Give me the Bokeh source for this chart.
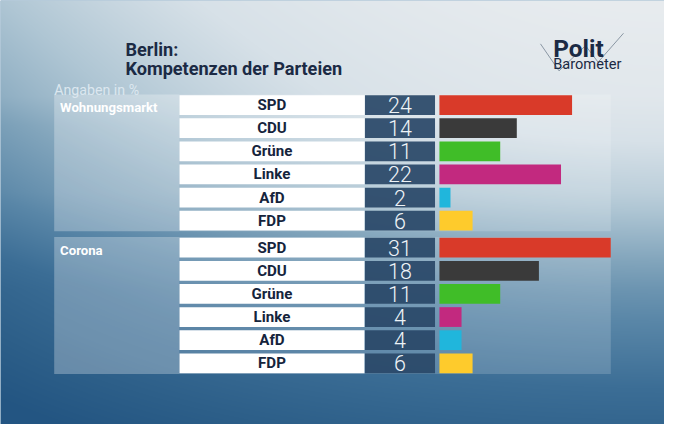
import numpy as np
from bokeh.plotting import figure
from bokeh.models import Range1d
from bokeh.core.properties import value
from bokeh.embed import file_html
from bokeh.resources import INLINE

# ---------------- data ----------------
sections = ["Wohnungsmarkt", "Corona"]
parties = ["SPD", "CDU", "Grüne", "Linke", "AfD", "FDP"]
wohnungsmarkt = [24, 14, 11, 22, 2, 6]
corona = [31, 18, 11, 4, 4, 6]
party_colors = ["#d93a29", "#3a3a3a", "#40bd28", "#c2297f", "#20b6dc", "#fecb2c"]
title_lines = ["Berlin:", "Kompetenzen der Parteien"]
unit_note = "Angaben in %"

# ---------------- layout helpers (reference-pixel based) ----------------
W, H = 664, 424                # figure size (fits 680x440 window with 8px margin)
RW, RH = 680, 440              # design space
X0, PXU = 449.5, 5.66          # value 0 position and design pixels per percent point
ROW0, ROWP = 108.5, 24.0       # first row centre and row pitch
FS = W / RW                    # font scale


def xu(px):
    return (px - X0) / PXU


def yu(py):
    return -(py - ROW0) / ROWP


def fs(px):
    return "%.1fpx" % (px * FS)


p = figure(width=W, height=H, output_backend="svg", toolbar_location=None,
           x_range=Range1d(xu(0), xu(RW)), y_range=Range1d(yu(RH), yu(0)),
           min_border=0)
p.axis.visible = False
p.grid.visible = False
p.outline_line_color = None
p.background_fill_color = "#6f98b8"
p.border_fill_color = "#6f98b8"

# ---------------- background gradient ----------------
ys_px = (np.arange(H) + 0.5) * RH / H
xs_px = (np.arange(W) + 0.5) * RW / W
stops_t = [0.0, 0.15, 0.3, 0.45, 0.6, 0.75, 0.9, 1.0]
stops_c = np.array([(232, 236, 239), (215, 225, 232), (175, 198, 212), (130, 165, 188),
                    (90, 135, 168), (60, 110, 150), (45, 95, 137), (35, 85, 130)], float)
v = np.interp(ys_px, [0, 100, 200, 300, 440], [0, 0.06, 0.25, 0.53, 0.83])
hamp = np.interp(ys_px, [0, 130, 300, 440], [0.3, 0.36, 0.3, 0.2])
hx = (1 - xs_px / RW) ** 2
t = np.clip(v[:, None] + hamp[:, None] * hx[None, :], 0, 1)
rgba = np.empty((H, W), dtype=np.uint32)
view = rgba.view(dtype=np.uint8).reshape((H, W, 4))
for c in range(3):
    view[:, :, c] = np.interp(t, stops_t, stops_c[:, c]).astype(np.uint8)
view[:, :, 3] = 255
p.image_rgba(image=[rgba[::-1]], x=xu(0), y=yu(RH), dw=xu(RW) - xu(0), dh=yu(0) - yu(RH))

# ---------------- rows ----------------
row_h = 20.5 / ROWP
sec_gap = 1.0 / 6.0
all_vals = [wohnungsmarkt, corona]
for s, (sec, vals) in enumerate(zip(sections, all_vals)):
    ys = [-(k + s * (len(parties) + sec_gap)) for k in range(len(parties))]
    top = ys[0] + row_h / 2 + 0.03
    bot = ys[-1] - row_h / 2 - 0.03
    # section panel
    p.quad(left=xu(55), right=xu(625), top=top, bottom=bot,
           fill_color="white", fill_alpha=0.17, line_color=None)
    # section label box
    p.quad(left=xu(55), right=xu(183), top=top, bottom=bot,
           fill_color="white", fill_alpha=0.14, line_color=None)
    p.text(x=[xu(61)], y=[top - 13.5 / ROWP], text=[sec], text_font=value("Roboto"),
           text_font_style="bold", text_font_size=fs(13.5), text_color="white",
           text_baseline="middle", text_align="left")
    # name boxes
    p.hbar(y=ys, left=xu(183.3), right=xu(372.7), height=row_h,
           fill_color="white", line_color=None)
    p.text(x=[xu(278)] * len(parties), y=ys, text=parties, text_font=value("Roboto"),
           text_font_style="bold", text_font_size=fs(15.5), text_color="#15243c",
           text_baseline="middle", text_align="center")
    # value boxes
    p.hbar(y=ys, left=xu(373.3), right=xu(445), height=row_h,
           fill_color="#2a4868", fill_alpha=0.93, line_color=None)
    p.text(x=[xu(409)] * len(parties), y=ys, text=[str(v_) for v_ in vals],
           text_font=value("Roboto Light"), text_font_size=fs(22), text_color="#eef3f7",
           text_baseline="middle", text_align="center")
    # bars
    p.hbar(y=ys, left=0, right=vals, height=row_h, fill_color=party_colors,
           line_color=None)

# ---------------- titles ----------------
p.text(x=[xu(128)], y=[yu(50.5)], text=[title_lines[0]], text_font=value("Roboto"),
       text_font_style="bold", text_font_size=fs(18.5), text_color="#1b2a44",
       text_baseline="alphabetic")
p.text(x=[xu(128)], y=[yu(70.5)], text=[title_lines[1]], text_font=value("Roboto"),
       text_font_style="bold", text_font_size=fs(18.5), text_color="#1b2a44",
       text_baseline="alphabetic")
p.text(x=[xu(55)], y=[yu(93)], text=[unit_note], text_font=value("Roboto"),
       text_font_size=fs(14.5), text_color="#dce7ef",
       text_baseline="alphabetic")

# ---------------- logo ----------------
p.line(x=[xu(q) for q in [553, 572, 598]], y=[yu(q) for q in [45, 73, 48]],
       line_color="#8a97a4", line_width=1)
p.line(x=[xu(q) for q in [600, 612, 638]], y=[yu(q) for q in [48, 64, 34]],
       line_color="#8a97a4", line_width=1)
p.text(x=[xu(566)], y=[yu(49.5)], text=["Polit"], text_font=value("Roboto"),
       text_font_style="bold", text_font_size=fs(25), text_color="#1b2a44",
       text_baseline="alphabetic")
p.text(x=[xu(566)], y=[yu(65.5)], text=["Barometer"], text_font=value("Roboto"),
       text_font_size=fs(15), text_color="#1b2a44", text_baseline="alphabetic")

open("out.html", "w").write(file_html(p, INLINE))
